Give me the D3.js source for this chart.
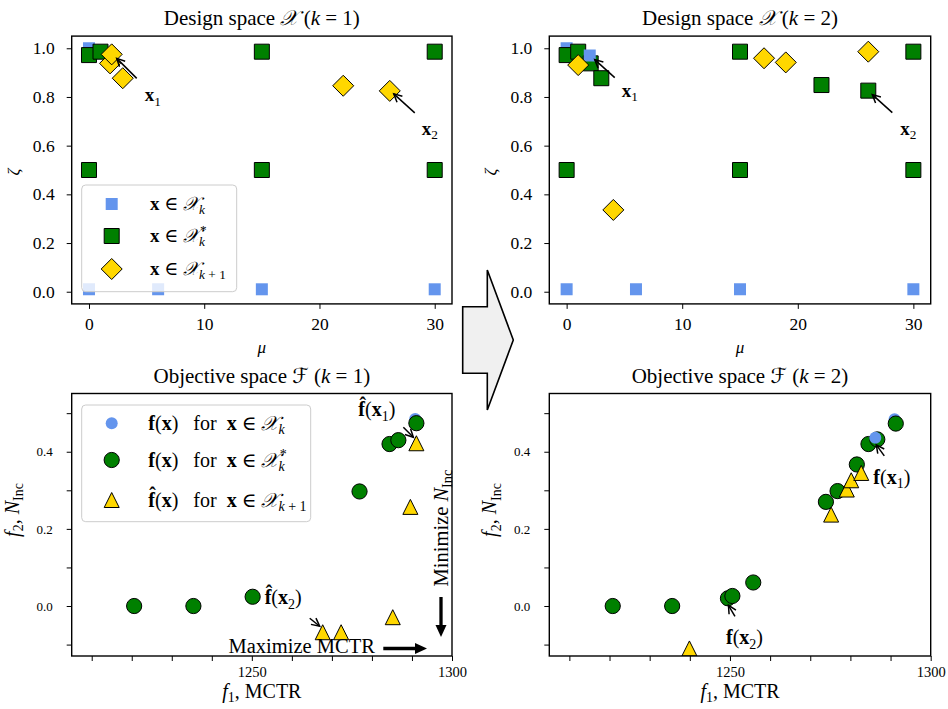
<!DOCTYPE html>
<html><head><meta charset="utf-8">
<script src="https://cdn.jsdelivr.net/npm/d3@7"></script>
<style>
body{margin:0;background:#fff}
svg text{font-family:"Liberation Serif","DejaVu Serif",serif;fill:#000;white-space:pre}
</style>
</head><body><svg id="c" width="948" height="709"></svg>
<script>
// ---------------- data ----------------
const muTicks = [0, 10, 20, 30];
const zetaTicks = [0, 0.2, 0.4, 0.6, 0.8, 1.0];
const f1Ticks = [1210, 1220, 1230, 1240, 1250, 1260, 1270, 1280, 1290, 1300];
const f1Labels = [1250, 1300];
const f2Ticks = [-0.1, 0, 0.1, 0.2, 0.3, 0.4, 0.5];
const f2Labels = [0, 0.2, 0.4];

// design space k = 1  [mu, zeta]
const blueDesignK1 = [[0,0.01],[6,0.01],[15,0.01],[30,0.01],[0,1.0],[0,0.972],[1,0.986],[15,0.986],[30,0.986],[0,0.5],[15,0.5],[30,0.5]];
const greenDesignK1 = [[0,0.972],[1,0.986],[15,0.986],[30,0.986],[0,0.5],[15,0.5],[30,0.5]];
const yellowDesignK1 = [[1.83,0.938],[1.97,0.975],[2.93,0.877],[22.06,0.846],[26.1,0.825]];
const topBlueDesignK1 = [];
// design space k = 2
const blueDesignK2 = [[0,0.01],[6,0.01],[15,0.01],[30,0.01],[0,1.0],[0,0.972],[1,0.986],[15,0.986],[30,0.986],[0,0.5],[15,0.5],[30,0.5],[26.1,0.826]];
const greenDesignK2 = [[0,0.972],[1,0.986],[2.08,0.938],[3.0,0.877],[15,0.986],[22.05,0.849],[26.1,0.826],[30,0.986],[0,0.5],[15,0.5],[30,0.5]];
const topBlueDesignK2 = [[2.0,0.97]];
const yellowDesignK2 = [[1.0,0.931],[4.04,0.336],[17.08,0.959],[18.96,0.942],[26.1,0.986]];

// objective space k = 1  [f1 (MCTR), f2 (N_Inc)]
const blueObjK1 = [[1290.8,0.485],[1220.6,0],[1235.4,0],[1250.2,0.024],[1276.9,0.297],[1284.4,0.42],[1286.6,0.43]];
const greenObjK1 = [[1220.6,0],[1235.4,0],[1250.2,0.024],[1276.9,0.297],[1284.4,0.42],[1286.6,0.43],[1291.1,0.474]];
const topBlueObjK1 = [];
const yellowObjK1 = [[1291.1,0.422],[1289.6,0.257],[1285.2,-0.029],[1267.7,-0.068],[1272.3,-0.068]];
// objective space k = 2
const blueObjK2 = [[1291.0,0.484],[1220.8,0],[1235.6,0],[1250.6,0.026],[1276.8,0.298],[1284.5,0.42]];
const greenObjK2 = [[1220.8,0],[1235.6,0],[1249.5,0.02],[1250.6,0.026],[1255.8,0.061],[1273.9,0.27],[1276.8,0.298],[1281.6,0.367],[1284.5,0.42],[1286.7,0.432],[1291.3,0.473]];
const topBlueObjK2 = [[1286.2,0.436]];
const yellowObjK2 = [[1275.2,0.237],[1279.1,0.302],[1280.2,0.326],[1282.7,0.345],[1239.9,-0.11]];

// ---------------- drawing ----------------
const svg = d3.select('#c');
const BLUE = '#6495ED', GREEN = '#008000', GOLD = '#FFD700';
const SERIF = '"Liberation Serif","DejaVu Serif",serif';
const CAL = '"DejaVu Serif","DejaVu Sans","Noto Sans",serif';
const NB = '\u00A0';

const defs = svg.append('defs');

function rich(sel, x, y, parts, size, anchor) {
  const t = sel.append('text').attr('x', x).attr('y', y).attr('font-size', size)
    .attr('text-anchor', anchor || 'start');
  let shift = 0;
  parts.forEach(p => {
    const txt = p[0], st = p[1] || '', dx = p[2] || 0;
    const ts = t.append('tspan').text(txt);
    let target = 0, fs = size;
    if (st.includes('_')) { target = size * 0.22; fs = size * 0.7; }
    if (st.includes('^')) { target = -size * 0.4; fs = size * 0.7; }
    if (target - shift !== 0) ts.attr('dy', target - shift);
    shift = target;
    if (dx) ts.attr('dx', dx);
    ts.attr('font-size', fs);
    if (st.includes('i')) ts.attr('font-style', 'italic');
    if (st.includes('b')) ts.attr('font-weight', 'bold');
    if (st.includes('c')) ts.style('font-family', CAL).attr('font-style', 'italic');
  });
  return t;
}

function arrowHead(g, x1, y1, x2, y2, len, half, filled, lw) {
  const a = Math.atan2(y2 - y1, x2 - x1);
  const p1 = [x2 - len * Math.cos(a) + half * Math.sin(a), y2 - len * Math.sin(a) - half * Math.cos(a)];
  const p2 = [x2 - len * Math.cos(a) - half * Math.sin(a), y2 - len * Math.sin(a) + half * Math.cos(a)];
  if (filled) {
    const lx = x2 - len * 0.8 * Math.cos(a), ly = y2 - len * 0.8 * Math.sin(a);
    g.append('line').attr('x1', x1).attr('y1', y1).attr('x2', lx).attr('y2', ly)
      .attr('stroke', '#000').attr('stroke-width', lw);
    g.append('path').attr('d', `M${p1}L${x2},${y2}L${p2}Z`).attr('fill', '#000');
  } else {
    g.append('line').attr('x1', x1).attr('y1', y1).attr('x2', x2).attr('y2', y2)
      .attr('stroke', '#000').attr('stroke-width', lw);
    g.append('path').attr('d', `M${p1}L${x2},${y2}L${p2}`).attr('fill', 'none')
      .attr('stroke', '#000').attr('stroke-width', lw);
  }
}

const symSquare = s => `M${-s/2},${-s/2}h${s}v${s}h${-s}Z`;
const symDiamond = r => `M0,${-r}L${r},0L0,${r}L${-r},0Z`;
const symTri = s => `M0,${-s/2}L${s/2},${s/2}L${-s/2},${s/2}Z`;

const styles = {
  blueSq:  {d: symSquare(12), fill: BLUE, stroke: 'none'},
  greenSq: {d: symSquare(15), fill: GREEN, stroke: '#000'},
  diamond: {d: symDiamond(10.5), fill: GOLD, stroke: '#000'},
  blueC:   {circle: 6, fill: BLUE, stroke: 'none'},
  greenC:  {circle: 7.6, fill: GREEN, stroke: '#000'},
  tri:     {d: symTri(15), fill: GOLD, stroke: '#000'}
};

function marker(g, x, y, st) {
  let m;
  if (st.circle) m = g.append('circle').attr('cx', x).attr('cy', y).attr('r', st.circle);
  else m = g.append('path').attr('d', st.d).attr('transform', `translate(${x},${y})`);
  m.attr('fill', st.fill).attr('stroke', st.stroke).attr('stroke-width', 1);
  return m;
}

function scatter(g, xs, ys, data, st) {
  data.forEach(d => marker(g, xs(d[0]), ys(d[1]), st));
}

function panel(box, xDom, yDom, opts) {
  const g = svg.append('g');
  const x = d3.scaleLinear().domain(xDom).range([box.l, box.r]);
  const y = d3.scaleLinear().domain(yDom).range([box.b, box.t]);
  const xa = g.append('g').attr('transform', `translate(0,${box.b})`)
    .call(d3.axisBottom(x).tickValues(opts.xTicks).tickSize(5).tickPadding(opts.xPad)
      .tickFormat(opts.xFmt));
  const ya = g.append('g').attr('transform', `translate(${box.l},0)`)
    .call(d3.axisLeft(y).tickValues(opts.yTicks).tickSize(5).tickPadding(opts.yPad)
      .tickFormat(opts.yFmt));
  [[xa, opts.xSize], [ya, opts.ySize]].forEach(([a, sz]) => {
    a.attr('font-family', null);
    a.select('.domain').remove();
    a.selectAll('.tick line').attr('stroke', '#000').attr('stroke-width', 1);
    a.selectAll('.tick text').style('font-family', SERIF)
      .style('font-size', sz + 'px').attr('fill', '#000');
  });
  const clipId = 'clip' + Math.round(box.l) + Math.round(box.t);
  defs.append('clipPath').attr('id', clipId).append('rect')
    .attr('x', box.l).attr('y', box.t).attr('width', box.r - box.l).attr('height', box.b - box.t);
  const plot = g.append('g').attr('clip-path', `url(#${clipId})`);
  g.append('rect').attr('x', box.l).attr('y', box.t).attr('width', box.r - box.l)
    .attr('height', box.b - box.t).attr('fill', 'none').attr('stroke', '#000').attr('stroke-width', 1.4);
  return {g, x, y, plot};
}

const L = {l: 71.7, r: 452}, R = {l: 549.3, r: 930.7};
const TOP = {t: 36.1, b: 303.9}, BOT = {t: 393.5, b: 656};
const fmt1 = d3.format('.1f');

const designOpts = {xTicks: muTicks, yTicks: zetaTicks, xPad: 9, yPad: 12, xSize: 17.5, ySize: 17.5,
  xFmt: d3.format('d'), yFmt: fmt1};
const objOpts = {xTicks: f1Ticks, yTicks: f2Ticks, xPad: 6, yPad: 14, xSize: 14.5, ySize: 13,
  xFmt: d => f1Labels.includes(d) ? String(d) : '',
  yFmt: d => f2Labels.some(v => Math.abs(v - d) < 1e-9) ? fmt1(d) : ''};

const muDom = [-1.5, 31.5], zetaDom = [-0.05, 1.05];
const f1Dom = [1205, 1300], f2Dom = [-0.1296, 0.551];

const pTL = panel({...L, ...TOP}, muDom, zetaDom, designOpts);
const pTR = panel({...R, ...TOP}, muDom, zetaDom, designOpts);
const pBL = panel({...L, ...BOT}, f1Dom, f2Dom, objOpts);
const pBR = panel({...R, ...BOT}, f1Dom, f2Dom, objOpts);

// scatter
[[pTL, blueDesignK1, greenDesignK1, topBlueDesignK1, yellowDesignK1],
 [pTR, blueDesignK2, greenDesignK2, topBlueDesignK2, yellowDesignK2]].forEach(([p, b, gr, tb, yl]) => {
  scatter(p.plot, p.x, p.y, b, styles.blueSq);
  scatter(p.plot, p.x, p.y, gr, styles.greenSq);
  scatter(p.plot, p.x, p.y, tb, styles.blueSq);
  scatter(p.plot, p.x, p.y, yl, styles.diamond);
});
[[pBL, blueObjK1, greenObjK1, topBlueObjK1, yellowObjK1],
 [pBR, blueObjK2, greenObjK2, topBlueObjK2, yellowObjK2]].forEach(([p, b, gr, tb, yl]) => {
  scatter(p.plot, p.x, p.y, b, styles.blueC);
  scatter(p.plot, p.x, p.y, gr, styles.greenC);
  scatter(p.plot, p.x, p.y, tb, styles.blueC);
  scatter(p.plot, p.x, p.y, yl, styles.tri);
});

// titles
function title(p, word, sym, k, yy) {
  const cx = (p.x.range()[0] + p.x.range()[1]) / 2;
  rich(svg, cx, yy, [[word + ' '], [sym, 'c'], [NB + '('], ['k', 'i'], [' = ' + k + ')']], 21, 'middle');
}
title(pTL, 'Design space', '𝒳', 1, 25);
title(pTR, 'Design space', '𝒳', 2, 25);
title(pBL, 'Objective space', 'ℱ', 1, 383);
title(pBR, 'Objective space', 'ℱ', 2, 383);

// axis labels
[pTL, pTR].forEach(p => {
  const cx = (p.x.range()[0] + p.x.range()[1]) / 2;
  rich(svg, cx, 353, [['μ', 'i']], 17, 'middle');
  const t = rich(svg, 0, 0, [['ζ', 'i']], 17, 'middle');
  t.attr('transform', `translate(${p.x.range()[0] - 53},${(TOP.t + TOP.b) / 2 + 2}) rotate(-90)`);
});
[pBL, pBR].forEach(p => {
  const cx = (p.x.range()[0] + p.x.range()[1]) / 2;
  rich(svg, cx, 698, [['f', 'i'], ['1', '_'], [', MCTR']], 20, 'middle');
  const t = rich(svg, 0, 0, [['f', 'i'], ['2', '_'], [', '], ['N', 'i'], ['Inc', '_']], 20, 'middle');
  t.attr('transform', `translate(${p.x.range()[0] - 53},510) rotate(-90)`);
});

// legends
function legendBox(x0, y0, x1, y1) {
  svg.append('rect').attr('x', x0).attr('y', y0).attr('width', x1 - x0).attr('height', y1 - y0)
    .attr('rx', 4).attr('fill', '#fff').attr('fill-opacity', 0.8).attr('stroke', '#cccccc').attr('stroke-width', 1);
}
const IN = NB + '∈' + NB;
legendBox(81.7, 185, 236.7, 291.7);
const lg1 = svg.append('g');
[[styles.blueSq, 204, [['x', 'b'], [IN], ['𝒳', 'c'], ['k', 'i_']]],
 [styles.greenSq, 236, [['x', 'b'], [IN], ['𝒳', 'c'], ['k', 'i_'], ['*', '^', -5]]],
 [styles.diamond, 269, [['x', 'b'], [IN], ['𝒳', 'c'], ['k', 'i_'], [' + 1', '_']]]].forEach(([st, yy, parts]) => {
  marker(lg1, 111.7, yy, st);
  rich(lg1, 150, yy + 6, parts, 19);
});
legendBox(81.7, 405, 310.7, 521.7);
const lg2 = svg.append('g');
const FOR = ')' + NB + NB + NB + 'for' + NB + NB;
[[styles.blueC, 423.3, [['f', 'b'], ['('], ['x', 'b'], [FOR], ['x', 'b'], [IN], ['𝒳', 'c'], ['k', 'i_']]],
 [styles.greenC, 460, [['f', 'b'], ['('], ['x', 'b'], [FOR], ['x', 'b'], [IN], ['𝒳', 'c'], ['k', 'i_'], ['*', '^', -5]]],
 [styles.tri, 500, [['f\u0302', 'b'], ['('], ['x', 'b'], [FOR], ['x', 'b'], [IN], ['𝒳', 'c'], ['k', 'i_'], [' + 1', '_']]]].forEach(([st, yy, parts]) => {
  marker(lg2, 111.7, yy, st);
  rich(lg2, 148.3, yy + 6.5, parts, 20);
});

// annotations
function annotate(p, pt, tip, tail, textPos, parts, size) {
  const px = p.x(pt[0]), py = p.y(pt[1]);
  arrowHead(svg, px + tail[0], py + tail[1], px + tip[0], py + tip[1], 8, 4, false, 1.5);
  rich(svg, px + textPos[0], py + textPos[1], parts, size);
}
const x1Lab = [['x', 'b'], ['1', '_']], x2Lab = [['x', 'b'], ['2', '_']];
annotate(pTL, yellowDesignK1[1], [5, 4], [25, 24], [33, 47], x1Lab, 19);
annotate(pTL, yellowDesignK1[4], [4, 3], [25, 22], [32, 44], x2Lab, 19);
annotate(pTR, topBlueDesignK2[0], [5, 4], [25, 22], [32, 41], x1Lab, 19);
annotate(pTR, greenDesignK2[6], [4, 4], [24, 22], [32, 44], x2Lab, 19);

annotate(pBL, yellowObjK1[0], [-3, -6], [-13, -16], [-58, -27], [['f\u0302', 'b'], ['('], ['x', 'b'], ['1', '_'], [')']], 20);
annotate(pBL, yellowObjK1[3], [-3, -6], [-13, -14], [-58, -28], [['f\u0302', 'b'], ['('], ['x', 'b'], ['2', '_'], [')']], 20);
annotate(pBR, topBlueObjK2[0], [1, 7], [9, 18], [-2, 46], [['f', 'b'], ['('], ['x', 'b'], ['1', '_'], [')']], 20);
annotate(pBR, greenObjK2[2], [0.5, 7], [7, 18], [-2, 46], [['f', 'b'], ['('], ['x', 'b'], ['2', '_'], [')']], 20);

// direction hints (bottom-left)
rich(svg, 301.7, 653.3, [['Maximize MCTR']], 20.5, 'middle');
arrowHead(svg, 383.3, 648.5, 427, 648.5, 12, 5.5, true, 3.3);
const mn = rich(svg, 0, 0, [['Minimize '], ['N', 'i'], ['Inc', '_']], 20.5, 'middle');
mn.attr('transform', 'translate(447.5,528) rotate(-90)');
arrowHead(svg, 441, 597, 441, 637, 12, 5.5, true, 3.3);

// big block arrow between panels
const bx = 462.7, by = 340;
svg.append('path')
  .attr('d', `M${bx},${by - 33.3}H${bx + 24.6}V${by - 70}L${bx + 50.6},${by}L${bx + 24.6},${by + 70}V${by + 33.3}H${bx}Z`)
  .attr('fill', '#f0f0f0').attr('stroke', '#000').attr('stroke-width', 1.6).attr('stroke-linejoin', 'miter');
</script></body></html>
